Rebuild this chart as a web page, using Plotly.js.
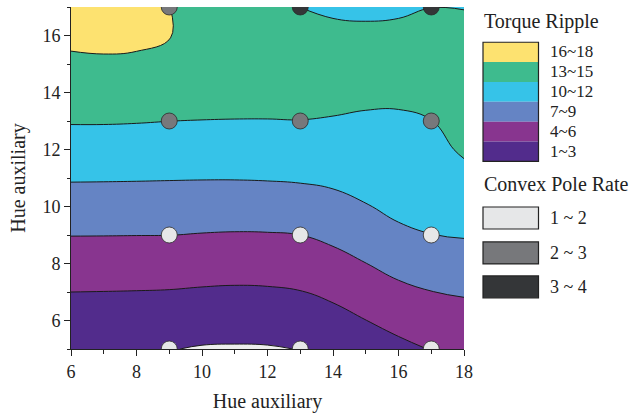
<!DOCTYPE html>
<html>
<head>
<meta charset="utf-8">
<script src="https://cdn.plot.ly/plotly-3.0.1.min.js"></script>
<style>
  html, body { margin: 0; padding: 0; background: #fff; }
  #chart { width: 632px; height: 417px; }
</style>
</head>
<body>
<div id="chart"></div>
<script>
// ---- Data ----
const hueX = [6, 7, 8, 9, 10, 11, 12, 13, 14, 15, 16, 17, 18];
const hueY = [5, 6, 7, 8, 9, 10, 11, 12, 13, 14, 15, 16, 17];

// Torque ripple values, one row per hueY value (x = 6..18)
const torqueRipple = [
  [0.8, 0.8, 0.7, 0.1, -0.2, -0.25, -0.2, 0.06, 0.57, 1.47, 2.33, 3.1, 3.6],
  [1.9, 1.9, 1.8, 1.47, 1.3, 1.2, 1.25, 1.46, 2.07, 2.97, 3.85, 4.46, 4.91],
  [3.0, 2.97, 2.93, 2.87, 2.72, 2.63, 2.69, 2.91, 3.57, 4.47, 5.38, 5.96, 6.25],
  [4.53, 4.51, 4.48, 4.44, 4.3, 4.21, 4.26, 4.45, 5.08, 5.97, 6.88, 7.46, 7.75],
  [6.06, 6.05, 6.03, 6.02, 5.89, 5.81, 5.84, 6.0, 6.61, 7.41, 8.34, 8.97, 9.17],
  [7.65, 7.63, 7.61, 7.59, 7.51, 7.47, 7.52, 7.69, 8.16, 8.86, 9.81, 9.73, 10.21],
  [9.23, 9.21, 9.18, 9.14, 9.11, 9.11, 9.17, 9.29, 9.52, 9.82, 10.16, 10.47, 11.26],
  [10.73, 10.72, 10.66, 10.58, 10.54, 10.52, 10.55, 10.63, 10.65, 10.73, 10.91, 11.22, 12.35],
  [12.18, 12.18, 12.12, 12.01, 11.96, 11.93, 11.93, 11.96, 11.78, 11.64, 11.66, 11.96, 12.9],
  [13.33, 13.38, 13.32, 13.1, 13.0, 12.95, 12.9, 12.9, 13.05, 12.6, 12.5, 12.9, 13.3],
  [14.48, 14.58, 14.52, 14.5, 13.7, 13.6, 13.4, 13.2, 13.6, 13.4, 13.3, 13.4, 13.4],
  [15.63, 15.78, 15.6, 15.1, 13.8, 13.7, 13.3, 12.8, 12.9, 12.8, 12.9, 13.0, 12.9],
  [16.8, 16.9, 16.3, 15.03, 13.6, 13.4, 12.8, 11.98, 11.4, 11.2, 11.4, 11.97, 11.9]
];

// Measurement points and their convex pole rate class
const poleX = [9, 13, 17, 9, 13, 17, 9, 13, 17, 9, 13, 17];
const poleY = [5, 5, 5, 9, 9, 9, 13, 13, 13, 17, 17, 17];
const poleRateClass = [0, 0, 0, 0, 0, 0, 1, 1, 1, 1, 2, 2];

// Legend labels
const rippleLabels = ['16~18', '13~15', '10~12', '7~9', '4~6', '1~3'];
const poleLabels = ['1 ~ 2', '2 ~ 3', '3 ~ 4'];

// ---- Styles ----
const bandColors = ['#EEEEEE', '#522C8C', '#88358F', '#6584C4', '#36C3E8', '#3EBB8E', '#FDE270'];
const rippleLegendColors = ['#FDE270', '#3EBB8E', '#36C3E8', '#6584C4', '#88358F', '#522C8C'];
const poleColors = ['#E6E7E8', '#77787B', '#343638'];
const FONT = 'Liberation Serif, Times New Roman, serif';

const colorscale = bandColors.map((c, i) => [i / (bandColors.length - 1), c]);

const contourTrace = {
  type: 'contour',
  x: hueX,
  y: hueY,
  z: torqueRipple,
  colorscale: colorscale,
  showscale: false,
  contours: { start: 0, end: 15, size: 3, coloring: 'fill', showlines: true },
  line: { color: '#1a1a1a', width: 1, smoothing: 1.2 },
  hoverinfo: 'skip'
};

const scatterTrace = {
  type: 'scatter',
  mode: 'markers',
  x: poleX,
  y: poleY,
  marker: {
    size: 16,
    color: poleRateClass.map(c => poleColors[c]),
    line: { color: '#2a2a2a', width: 0.8 }
  },
  cliponaxis: true,
  showlegend: false
};

// Pixel helpers for the hand-built legend (plot area: x 71..464, y 7..349.5)
const L = 71, R = 464, T = 7, B = 349.5;
const px = v => (v - L) / (R - L);
const py = v => (B - v) / (B - T);

const shapes = [];
const annotations = [];

// Torque Ripple legend block
const blockTop = 42.3, bandH = 19.9;
rippleLegendColors.forEach((c, i) => {
  shapes.push({
    type: 'rect', xref: 'paper', yref: 'paper',
    x0: px(483), x1: px(538.5), y0: py(blockTop + i * bandH), y1: py(blockTop + (i + 1) * bandH),
    fillcolor: c, line: { width: 0 }, layer: 'above'
  });
});
shapes.push({
  type: 'rect', xref: 'paper', yref: 'paper',
  x0: px(483), x1: px(538.5), y0: py(blockTop), y1: py(blockTop + 6 * bandH),
  fillcolor: 'rgba(0,0,0,0)', line: { width: 1.2, color: '#222' }, layer: 'above'
});
rippleLabels.forEach((t, i) => {
  annotations.push({
    xref: 'paper', yref: 'paper', x: px(548), y: py(blockTop + (i + 0.5) * bandH - 0.5),
    xanchor: 'left', yanchor: 'middle', showarrow: false, text: t,
    font: { family: FONT, size: 17, color: '#222' }
  });
});
annotations.push({
  xref: 'paper', yref: 'paper', x: px(481.5), y: py(21.5),
  xanchor: 'left', yanchor: 'middle', showarrow: false, text: 'Torque Ripple',
  font: { family: FONT, size: 20, color: '#222' }
});

// Convex Pole Rate legend
annotations.push({
  xref: 'paper', yref: 'paper', x: px(481.5), y: py(184),
  xanchor: 'left', yanchor: 'middle', showarrow: false, text: 'Convex Pole Rate',
  font: { family: FONT, size: 20, color: '#222' }
});
const poleRectTop = [207.3, 242.3, 276.3];
poleLabels.forEach((t, i) => {
  shapes.push({
    type: 'rect', xref: 'paper', yref: 'paper',
    x0: px(483), x1: px(538.5), y0: py(poleRectTop[i]), y1: py(poleRectTop[i] + 22),
    fillcolor: poleColors[i], line: { width: 1.2, color: '#222' }, layer: 'above'
  });
  annotations.push({
    xref: 'paper', yref: 'paper', x: px(548), y: py(poleRectTop[i] + 11),
    xanchor: 'left', yanchor: 'middle', showarrow: false, text: t,
    font: { family: FONT, size: 18, color: '#222' }
  });
});

const axisCommon = {
  showgrid: false, zeroline: false, showline: true, linecolor: '#222', linewidth: 1,
  ticks: 'outside', ticklen: 6, tickwidth: 1, tickcolor: '#222',
  tickfont: { family: FONT, size: 18, color: '#222' },
  minor: { dtick: 1, ticks: 'outside', ticklen: 3.5, tickwidth: 1, tickcolor: '#222' },
  mirror: false
};

const layout = {
  width: 632, height: 417,
  margin: { l: 71, r: 168, t: 7, b: 67.5 },
  paper_bgcolor: '#fff', plot_bgcolor: '#fff',
  showlegend: false,
  xaxis: Object.assign({}, axisCommon, {
    range: [6, 18], tick0: 6, dtick: 2,
    title: { text: 'Hue auxiliary', font: { family: FONT, size: 20, color: '#222' }, standoff: 13 }
  }),
  yaxis: Object.assign({}, axisCommon, {
    range: [5, 17], tick0: 6, dtick: 2,
    title: { text: 'Hue auxiliary', font: { family: FONT, size: 20, color: '#222' }, standoff: 11 }
  }),
  shapes: shapes,
  annotations: annotations
};

Plotly.newPlot('chart', [contourTrace, scatterTrace], layout, { displayModeBar: false, staticPlot: true });
</script>
</body>
</html>
